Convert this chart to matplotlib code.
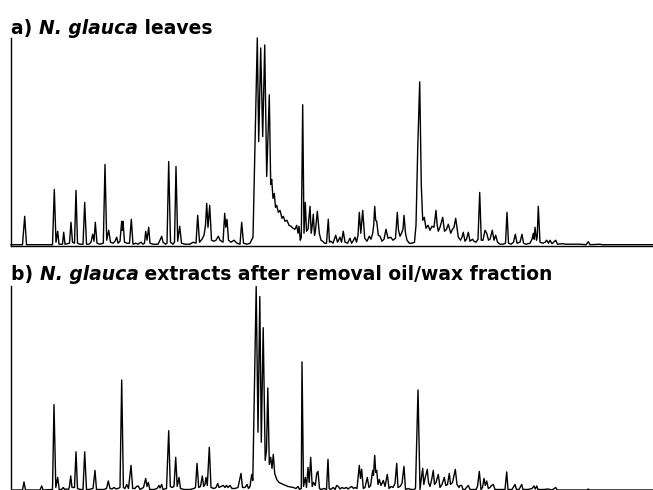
import matplotlib
matplotlib.use('Agg')
import matplotlib.pyplot as plt

# chromatogram traces: retention (scan) position and signal
# a) N. glauca leaves
rt_a = [11, 22.5, 24.7, 26.5, 52.5, 54.3, 56, 57.7, 59, 62.5,
        63.7, 65, 69.5, 71, 72.5, 74.5, 76, 77.5, 80, 83,
        84.7, 86.5, 89, 91, 92.7, 94, 95.3, 97, 100, 103.3,
        105, 106.7, 108.7, 110.5, 113, 115, 116.7, 118, 120, 121.7,
        122.3, 123, 124.5, 127, 129.5, 131.3, 133, 136, 138, 141,
        143, 144.5, 145.7, 147, 148.7, 150, 153, 158, 160, 161.7,
        163, 165.5, 167, 168.7, 170.5, 173, 174.5, 176, 177.7, 179.7,
        181.5, 185, 190, 193, 196, 197.7, 199.5, 202, 204, 205.5,
        206.7, 208, 209.7, 211.5, 214, 216, 218.3, 220, 223, 224.7,
        225.8, 227, 228.5, 231, 234, 237, 240, 241.7, 243.5, 247,
        250, 253, 257.3, 258.7, 260.7, 262.7, 264.7, 266.7, 269.3, 270.7,
        271.7, 273, 274.3, 275.5, 276.7, 278.3, 280, 282, 283.3, 285,
        287, 289, 291, 293, 295, 296.7, 298, 299, 300.3, 301.3,
        302.7, 304, 305.3, 306.5, 308, 310, 311.2, 312.3, 313.3, 314.5,
        315.5, 317.3, 319.3, 321, 322.7, 324.5, 326.5, 328.3, 329.5, 331,
        333, 335.7, 337.5, 340, 341.5, 343.3, 345, 347.5, 350, 351.5,
        353, 355, 356.5, 358, 359.3, 360.8, 362.7, 364.7, 367, 369.3,
        371, 372.7, 373.7, 374.7, 375.7, 376.7, 378.3, 380, 382, 384,
        386, 388, 390.7, 393, 395.5, 397.3, 398.5, 400, 401.5, 403,
        404, 405.5, 407, 409.3, 412, 414.5, 416, 417.8, 419.7, 421.3,
        422.7, 424.3, 426, 428, 430, 432, 434, 436, 437.2, 438.3,
        440, 442.7, 444.5, 446.5, 448.3, 450.7, 452.5, 454, 455.7, 458.3,
        460.5, 462, 463.3, 465, 466.5, 468.3, 470, 472.5, 474, 476,
        478, 479.7, 481.3, 483, 485, 486.7, 488.5, 490, 492.3, 494,
        495.7, 497.5, 500, 503, 505.5, 507, 508.5, 511, 513.5, 515.3,
        517, 520, 522, 523.5, 526, 530, 532, 533.3, 534.2, 535,
        536.5, 537.2, 538.3, 540, 543, 545, 546.7, 548.5, 550, 552,
        555.7, 557.5, 562, 566, 572, 580, 586, 588.3, 590, 600,
        602, 653]
sig_a = [0.5, 0.5, 29, 0.5, 0.5, 56, 3, 14, 1, 1,
         13, 1, 2, 23, 3, 2, 55, 2, 1, 1,
         43, 1, 1, 3, 11, 4, 23, 2, 1, 2,
         81, 5, 15, 3, 2, 4, 8, 2, 4, 24,
         15, 24, 3, 2, 2, 26, 1, 2, 1, 3,
         1, 2, 14, 5, 18, 2, 1, 1, 5, 9,
         3, 1, 2, 84, 3, 1, 3, 79, 4, 19,
         2, 1, 1, 3, 2, 30, 3, 6, 10, 20,
         42, 18, 40, 5, 4, 5, 9, 5, 3, 32,
         18, 26, 5, 3, 5, 2, 1, 23, 2, 1,
         2, 8, 208, 104, 198, 109, 201, 69, 151, 61,
         66, 47, 52, 38, 40, 33, 35, 27, 29, 24,
         25, 20, 19, 17, 16, 20, 12, 19, 5, 8,
         141, 12, 43, 14, 16, 39, 12, 20, 31, 10,
         15, 34, 12, 5, 4, 2, 2, 26, 3, 4,
         2, 10, 3, 8, 3, 14, 3, 2, 7, 2,
         4, 8, 3, 10, 33, 12, 35, 7, 4, 9,
         6, 12, 20, 39, 25, 24, 10, 9, 4, 6,
         16, 7, 8, 5, 7, 33, 15, 9, 12, 16,
         30, 12, 5, 2, 2, 3, 20, 100, 164, 60,
         25, 28, 17, 20, 15, 19, 18, 35, 20, 14,
         18, 28, 14, 16, 21, 12, 16, 18, 27, 8,
         5, 8, 13, 4, 6, 13, 4, 6, 4, 3,
         6, 53, 5, 5, 15, 12, 5, 6, 15, 5,
         10, 3, 1, 1, 2, 33, 2, 1, 3, 11,
         2, 3, 11, 2, 1, 2, 6, 12, 6, 18,
         5, 8, 39, 3, 2, 3, 5, 2, 5, 1.5,
         5, 1, 1.5, 1, 1, 1, 0.5, 3.5, 0.5, 1,
         0.5, 0.5]

# b) N. glauca extracts after removal of the oil/wax fraction
rt_b = [11, 22.5, 24, 25.5, 40, 41.7, 43, 52.5, 54, 55.8,
        57.7, 59.2, 61.5, 63.3, 64.5, 66, 68.5, 69.5, 70.7, 72,
        74.5, 76, 77.5, 80, 83, 84.7, 86.5, 89, 93, 95,
        96.5, 100, 104, 106.5, 108.3, 110, 112, 114, 116, 118,
        120, 121.7, 123.4, 125, 126.7, 128.5, 131, 132.7, 135, 136.5,
        138.3, 140, 143.5, 145.7, 147, 148.3, 149.8, 154, 157, 159,
        160, 161.7, 163, 166.5, 168.7, 170.3, 172, 174, 175.7, 177.2,
        179, 180.5, 184, 190, 194, 195.5, 197, 198.7, 200.5, 202.3,
        203.7, 205, 206, 207.3, 209.3, 211, 214, 216, 217.7, 219,
        221, 223.3, 225, 226.5, 228, 230, 232, 235, 238, 241,
        242.5, 245, 247, 248.5, 250, 251.7, 252.8, 256.2, 258, 259.8,
        261.3, 263.2, 265.2, 266.5, 267.8, 269.3, 270.7, 272, 273.3, 274.7,
        276.7, 279, 283.3, 288, 293.3, 296, 298, 299.5, 301.3, 302,
        303.5, 305.3, 306.5, 308, 309.2, 310.7, 312.2, 313.5, 315.3, 316.7,
        318, 319.5, 321, 324, 326.5, 328, 329.2, 330.5, 333.3, 335,
        336.7, 338.3, 340, 342, 344, 346.5, 348, 350, 351.7, 353.5,
        355, 357, 359.3, 360.5, 361.7, 363.3, 365, 367.3, 369, 370.6,
        372.7, 373.5, 374.7, 375.7, 376.7, 378, 379.3, 381, 383.3, 385,
        387.3, 389, 391, 393, 395, 396.7, 398, 400, 402, 404,
        405.5, 408, 411, 414, 415.5, 416.7, 418, 419.2, 420, 421.3,
        422.7, 423.8, 425, 427.3, 428.5, 430, 431.5, 433.3, 434.5, 436,
        438.3, 440, 442, 444.3, 445.8, 447.5, 449.3, 450.5, 452.5, 455.3,
        457, 459, 460, 461.7, 463, 465, 466.5, 468.3, 470, 473,
        476, 477.5, 479.3, 481, 482.5, 484, 485.3, 486.7, 488.3, 490,
        491.5, 493.3, 495, 498, 501, 505, 506.7, 508, 512, 515,
        516.5, 519, 521.7, 523, 528, 532, 534, 535.3, 536.7, 538,
        544, 548, 552, 555.7, 557.2, 566, 587, 588.3, 589.5, 653]
sig_b = [0.5, 0.5, 8.5, 0.5, 0.5, 4.5, 0.5, 1, 85.5, 3,
         13, 1, 1, 3, 1, 1.5, 1, 4, 14.5, 3,
         3, 38.5, 2, 1, 1, 38.5, 1, 1, 2, 20,
         1, 1, 1, 2, 9.5, 2, 1.5, 3, 1.5, 2,
         3, 110, 3, 2, 6, 2, 25, 2, 2, 4,
         4.5, 1, 3, 12, 4, 8, 1, 1, 2, 5,
         2.5, 6, 1, 2, 59.5, 4, 3, 4, 33, 4,
         13, 2, 1, 1, 2, 3, 27, 3, 4, 14.5,
         4, 6, 13, 5, 43, 3, 2, 3, 7, 3,
         4, 5, 3, 5, 3, 5, 2, 2, 3, 17,
         3, 3, 6, 2, 4, 16, 10, 203, 58, 193,
         48, 162, 30, 40, 102, 26, 33, 22, 36, 17,
         11, 8, 6, 4, 3, 2, 4, 1, 2, 128,
         4, 13, 3, 23, 8, 33, 4, 8, 5, 17,
         19, 2, 1, 2, 1, 31, 2, 1, 3, 1,
         5, 4, 1.5, 3, 2, 3, 1.5, 3, 4, 2,
         3, 2, 25, 12, 21, 2, 3, 13, 3, 5,
         20, 15, 35, 18, 20, 6, 11, 5, 10, 4,
         16, 2, 4, 3, 7, 27, 3, 4, 7, 24,
         1, 2, 1, 1, 2, 50, 100, 40, 1, 12,
         22, 6, 12, 21, 8, 4, 10, 20, 6, 8,
         16, 3, 6, 13, 5, 6, 17, 6, 8, 21,
         6, 3, 5, 5, 1, 1, 3, 5, 1, 1,
         1, 4, 19, 1, 3, 12, 5, 9.5, 2, 3,
         5, 6, 1, 1, 1, 1, 18.5, 1, 1, 6,
         1, 1, 6, 1, 1, 2, 4.5, 1.5, 4.5, 1,
         1, 1.5, 0.5, 3, 0.5, 0.5, 0.5, 1.5, 0.5, 0.5]

# panel titles: (prefix, species in italics, rest)
title_a = ('a) ', 'N. glauca', ' leaves')
title_b = ('b) ', 'N. glauca', ' extracts after removal oil/wax fraction')

W, H = 653, 490
fig = plt.figure(figsize=(W / 100, H / 100), dpi=100)

# axes placed in pixels: left spine at x=11, panel a from y=38 to 246,
# panel b from y=286 down past the bottom edge of the picture
ax_a = fig.add_axes([11 / W, (H - 246) / H, 642 / W, 208 / H])
ax_b = fig.add_axes([11 / W, -1 / H, 642 / W, 205 / H])


def style_axes(ax, ylow, yhigh):
    ax.set_xlim(11, 653)
    ax.set_ylim(ylow, yhigh)
    for side in ('top', 'right'):
        ax.spines[side].set_visible(False)
    for side in ('left', 'bottom'):
        ax.spines[side].set_linewidth(1.0)
        ax.spines[side].set_color('black')
    ax.set_xticks([])
    ax.set_yticks([])
    ax.patch.set_alpha(0)


ax_a.plot(rt_a, sig_a, color='black', lw=1.0, clip_on=False)
style_axes(ax_a, -0.8, 208)

# panel b is cut off at the bottom of the picture, its baseline sits on the edge
ax_b.plot(rt_b, sig_b, color='black', lw=1.0)
style_axes(ax_b, -0.5, 203.5)
ax_b.spines['bottom'].set_visible(False)


def put_title(ax, parts, x, y, size=13.5):
    # three pieces in a row, the middle one bold italic
    first = fig.text(x, y, parts[0], fontsize=size, fontweight='bold',
                     family='DejaVu Sans', va='baseline', ha='left')
    mid = ax.annotate(parts[1], xy=(1, 0), xycoords=first, va='bottom', ha='left',
                      fontsize=size, fontweight='bold', fontstyle='italic',
                      family='DejaVu Sans', annotation_clip=False)
    ax.annotate(parts[2], xy=(1, 0), xycoords=mid, va='bottom', ha='left',
                fontsize=size, fontweight='bold', family='DejaVu Sans',
                annotation_clip=False)


put_title(ax_a, title_a, 11 / W, (H - 34.3) / H)
put_title(ax_b, title_b, 11 / W, (H - 280) / H)

fig.savefig('out.png', dpi=100)
